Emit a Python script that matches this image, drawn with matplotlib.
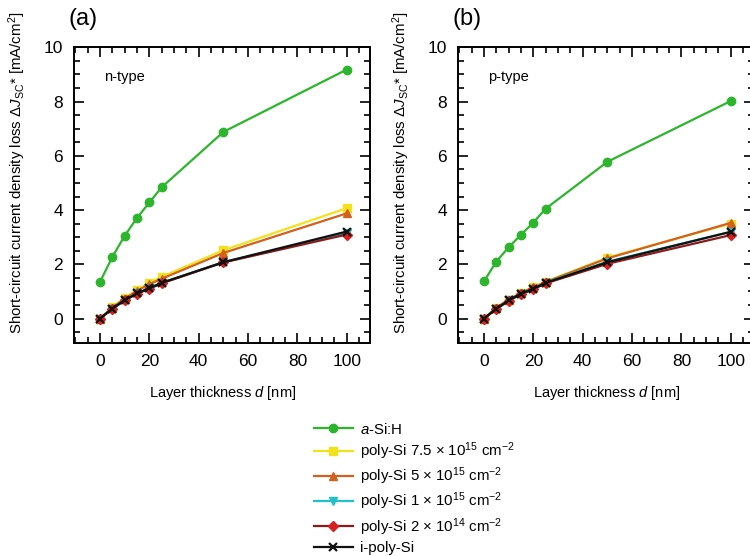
import matplotlib
matplotlib.use("Agg")
import matplotlib.pyplot as plt
from matplotlib.ticker import MultipleLocator
import numpy as np

plt.rcParams['font.family'] = ['Liberation Sans', 'DejaVu Sans']
plt.rcParams['mathtext.fontset'] = 'custom'
plt.rcParams['mathtext.rm'] = 'Liberation Sans'
plt.rcParams['mathtext.it'] = 'Liberation Sans:italic'

# Layer thickness [nm]
thickness = [0, 5, 10, 15, 20, 25, 50, 100]

labels = [
    r"$a$-Si:H",
    r"poly-Si 7.5 $\times$ 10$^{15}$ cm$^{-2}$",
    r"poly-Si 5 $\times$ 10$^{15}$ cm$^{-2}$",
    r"poly-Si 1 $\times$ 10$^{15}$ cm$^{-2}$",
    r"poly-Si 2 $\times$ 10$^{14}$ cm$^{-2}$",
    "i-poly-Si",
]

# panel (a), n-type
n_asi = [1.35, 2.27, 3.05, 3.71, 4.28, 4.84, 6.88, 9.18]
n_p75 = [0.0, 0.43, 0.76, 1.07, 1.32, 1.54, 2.52, 4.07]
n_p5 = [0.0, 0.41, 0.73, 1.02, 1.27, 1.47, 2.42, 3.88]
n_p1 = [0.0, 0.37, 0.68, 0.93, 1.12, 1.32, 2.08, 3.15]
n_p02 = [0.0, 0.36, 0.67, 0.92, 1.10, 1.30, 2.07, 3.10]
n_ipoly = [0.0, 0.37, 0.68, 0.93, 1.12, 1.32, 2.08, 3.21]

# panel (b), p-type
p_asi = [1.37, 2.10, 2.63, 3.09, 3.54, 4.05, 5.78, 8.02]
p_p75 = [0.0, 0.40, 0.70, 0.95, 1.15, 1.36, 2.25, 3.50]
p_p5 = [0.0, 0.40, 0.70, 0.95, 1.15, 1.35, 2.22, 3.53]
p_p1 = [0.0, 0.37, 0.67, 0.92, 1.10, 1.33, 2.10, 3.20]
p_p02 = [0.0, 0.35, 0.65, 0.90, 1.08, 1.30, 2.02, 3.08]
p_ipoly = [0.0, 0.37, 0.67, 0.92, 1.10, 1.32, 2.08, 3.20]

colors = ['#2db52d', '#f2e21c', '#d2601e', '#22c0c8', '#8b1a1a', '#111111']
mfcs = ['#2db52d', '#f2e21c', '#d2601e', '#22c0c8', '#d42020', '#111111']
markers = ['o', 's', '^', 'v', 'D', 'x']
msizes = [6, 5.5, 5.5, 5.5, 5, 6]

fig = plt.figure(figsize=(7.5, 5.56), dpi=100)
ax_a = fig.add_axes([0.0987, 0.383, 0.395, 0.532])
ax_b = fig.add_axes([0.6107, 0.383, 0.395, 0.532])

panels = [
    (ax_a, [n_asi, n_p75, n_p5, n_p1, n_p02, n_ipoly], "n-type", "(a)"),
    (ax_b, [p_asi, p_p75, p_p5, p_p1, p_p02, p_ipoly], "p-type", "(b)"),
]

handles = []
for ax, series, tag, letter in panels:
    hs = []
    for vals, lab, c, mfc, m, ms in zip(series, labels, colors, mfcs, markers, msizes):
        h, = ax.plot(thickness, vals, color=c, marker=m, markersize=ms,
                     markerfacecolor=mfc, markeredgecolor=mfc, linewidth=1.6,
                     markeredgewidth=1.6 if m == 'x' else 1.0, label=lab)
        hs.append(h)
    handles = hs
    ax.set_xlim(-10.5, 109.5)
    ax.set_ylim(-0.9, 10)
    ax.xaxis.set_major_locator(MultipleLocator(20))
    ax.xaxis.set_minor_locator(MultipleLocator(5))
    ax.yaxis.set_major_locator(MultipleLocator(2))
    ax.yaxis.set_minor_locator(MultipleLocator(0.5))
    ax.tick_params(which='both', direction='in', top=True, right=True, width=1.2)
    ax.tick_params(which='major', length=7, labelsize=12.5, pad=8)
    ax.tick_params(which='minor', length=4)
    for s in ax.spines.values():
        s.set_linewidth(1.4)
    ax.set_xlabel(r"Layer thickness $d$ [nm]", fontsize=10.5, labelpad=11)
    ax.set_ylabel(r"Short-circuit current density loss $\Delta J_{\rm SC}$* [mA/cm$^2$]",
                  fontsize=10.8)
    ax.yaxis.set_label_coords(-0.155, 0.575)
    ax.text(0.1, 0.9, tag, transform=ax.transAxes, fontsize=10.5, va='center')
    pos = ax.get_position()
    fig.text(pos.x0 - 0.008, 0.965, letter, fontsize=17, va='center')

fig.legend(handles=handles, loc='upper left', bbox_to_anchor=(0.408, 0.255),
           frameon=False, fontsize=10.8, handlelength=2.6, labelspacing=0.24,
           handletextpad=0.5, borderpad=0)

fig.savefig("out.png", dpi=100)
